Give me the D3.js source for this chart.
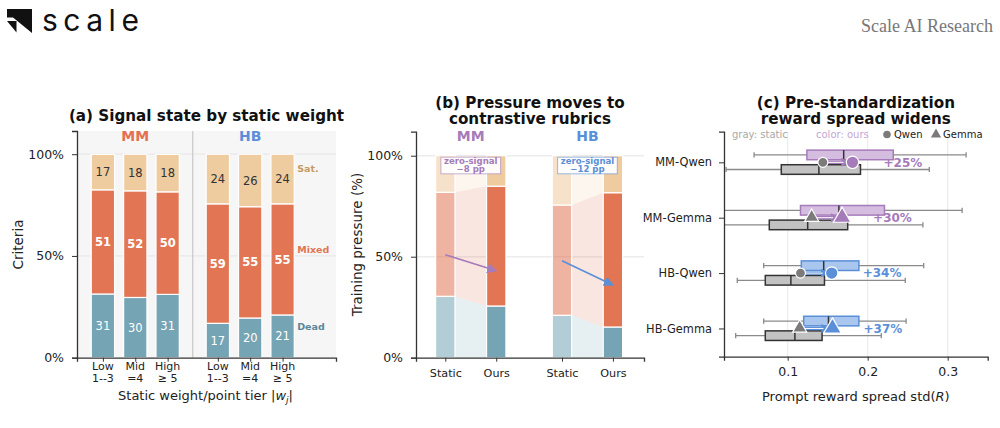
<!DOCTYPE html>
<html>
<head>
<meta charset="utf-8">
<script src="https://cdn.jsdelivr.net/npm/d3@7"></script>
<style>
  body { margin: 0; background: #fff; }
  svg { display: block; }
  text { font-family: "DejaVu Sans", sans-serif; }
</style>
</head>
<body>
<svg id="fig" width="1000" height="428"></svg>
<script>
// ---------------------------------------------------------------
// data
// ---------------------------------------------------------------

// (a) signal state share (%) per static weight tier, MM tiers then HB tiers
var groupsA = ["MM", "HB"];
var tiersA  = [["Low", "1--3"], ["Mid", "=4"], ["High", "\u2265 5"]];
var deadA   = [31.3, 29.6, 31.1, 16.9, 19.5, 21.0];
var mixedA  = [51.2, 52.4, 50.4, 58.7, 54.7, 54.6];
var satA    = [17.4, 18.0, 18.4, 24.4, 25.8, 24.4];
var stateNames = ["Dead", "Mixed", "Sat."];

// (b) training pressure (%): MM static, MM ours, HB static, HB ours
var groupsB  = ["MM", "HB"];
var methodsB = ["Static", "Ours"];
var deadB    = [30.4, 25.6, 21.0, 15.2];
var mixedB   = [51.5, 59.3, 54.6, 66.5];
var satB     = [18.1, 15.1, 24.4, 18.3];
var zeroSignalB = ["\u22128 pp", "\u221212 pp"];
var arrowB   = [[51, 43], [48, 36]];

// (c) prompt reward spread std(R): [whisker lo, q1, median, q3, whisker hi]
var rowsC = ["MM-Qwen", "MM-Gemma", "HB-Qwen", "HB-Gemma"];
var staticBoxC = [
  [0.023, 0.092, 0.139, 0.191, 0.277],
  [0.012, 0.077, 0.125, 0.175, 0.269],
  [0.037, 0.072, 0.104, 0.146, 0.247],
  [0.035, 0.072, 0.109, 0.143, 0.217]
];
var oursBoxC = [
  [0.058, 0.124, 0.170, 0.232, 0.323],
  [0.010, 0.116, 0.164, 0.221, 0.318],
  [0.070, 0.117, 0.145, 0.189, 0.270],
  [0.070, 0.120, 0.151, 0.189, 0.248]
];
var staticMeanC = [0.144, 0.130, 0.116, 0.115];
var oursMeanC   = [0.181, 0.168, 0.155, 0.156];
var gainC       = ["+25%", "+30%", "+34%", "+37%"];

// ---------------------------------------------------------------
// style
// ---------------------------------------------------------------
var col = {
  dead: "#75a4b4", mixed: "#e27654", sat: "#efcba0",
  deadTxt: "#5a8798", mixedTxt: "#e27654", satTxt: "#c89a5f",
  mmA: "#e3704f", mm: "#a67bba", hb: "#5b8fd8",
  mmFill: "#d5bde0", hbFill: "#a8c6ee",
  axis: "#333", grid: "#e8e8e8"
};
var stateCols = [col.dead, col.mixed, col.sat];

var svg = d3.select("#fig");

var defs = svg.append("defs");
function arrowHead(id, c, size) {
  defs.append("marker")
    .attr("id", id).attr("viewBox", "0 0 10 10")
    .attr("refX", 9).attr("refY", 5)
    .attr("markerUnits", "userSpaceOnUse")
    .attr("markerWidth", size).attr("markerHeight", size)
    .attr("orient", "auto")
    .append("path").attr("d", "M0,0L10,5L0,10Z").attr("fill", c);
}
arrowHead("arMM", col.mm, 10);
arrowHead("arHB", col.hb, 10);
arrowHead("arMMc", col.mm, 9);
arrowHead("arHBc", col.hb, 9);

function styleAxis(g) {
  g.select(".domain").attr("stroke", col.axis).attr("stroke-width", 1.3);
  g.selectAll(".tick line").attr("stroke", col.axis).attr("stroke-width", 1);
  g.selectAll(".tick text").attr("fill", "#222").style("font-family", "DejaVu Sans");
}

// ---------------------------------------------------------------
// header
// ---------------------------------------------------------------
svg.append("path").attr("d", "M7,9H32V33L13,17.5H7Z").attr("fill", "#111");
svg.append("path").attr("d", "M7,21H16.5V32.5Z").attr("fill", "#111");
svg.append("text").attr("x", 42).attr("y", 30.5)
  .style("font-family", "Inter").style("font-size", "30px").style("letter-spacing", "5.5px")
  .attr("fill", "#111")
  .text("scale");
svg.append("text").attr("x", 993).attr("y", 32).attr("text-anchor", "end")
  .style("font-family", "Liberation Serif").style("font-size", "18px").attr("fill", "#777")
  .text("Scale AI Research");

// ---------------------------------------------------------------
// (a) signal state by static weight
// ---------------------------------------------------------------
var gapA = 3.55, barWA = 0.72;
var posA = d3.range(deadA.length).map(function(i) { return Math.floor(i / 3) * gapA + i % 3; });
var xA = d3.scaleLinear().domain([-0.8, 7.2]).range([77, 336]);
var yA = d3.scaleLinear().domain([0, 111.4]).range([357.7, 131]);
var gA = svg.append("g");

gA.append("rect")
  .attr("x", xA.range()[0]).attr("y", yA.range()[1])
  .attr("width", xA.range()[1] - xA.range()[0]).attr("height", yA.range()[0] - yA.range()[1])
  .attr("fill", "#f6f6f6");
gA.selectAll(".grid").data([50, 100]).enter().append("line")
  .attr("x1", xA.range()[0]).attr("x2", xA.range()[1])
  .attr("y1", yA).attr("y2", yA)
  .attr("stroke", col.grid).attr("stroke-width", 1.2);
gA.append("line")
  .attr("x1", xA((2 + gapA) / 2)).attr("x2", xA((2 + gapA) / 2))
  .attr("y1", yA.range()[1]).attr("y2", yA.range()[0])
  .attr("stroke", "#c8c8c8").attr("stroke-width", 1.2);

var layersA = [deadA, mixedA, satA];
posA.forEach(function(p, i) {
  var base = 0;
  layersA.forEach(function(vals, k) {
    var v = vals[i];
    gA.append("rect")
      .attr("x", xA(p - barWA / 2)).attr("width", xA(barWA) - xA(0))
      .attr("y", yA(base + v)).attr("height", yA(base) - yA(base + v))
      .attr("fill", stateCols[k]).attr("stroke", "#fff").attr("stroke-width", 1.2);
    gA.append("text")
      .attr("x", xA(p)).attr("y", yA(base + v / 2)).attr("dy", "0.36em")
      .attr("text-anchor", "middle")
      .style("font-size", "11.5px")
      .style("font-weight", k === 1 ? "bold" : "normal")
      .attr("fill", k === 2 ? "#333" : "#fff")
      .text(Math.round(v));
    base += v;
  });
});

// state names beside last bar
var lastA = posA.length - 1, baseA = 0;
[col.deadTxt, col.mixedTxt, col.satTxt].forEach(function(c, k) {
  var v = layersA[k][lastA];
  gA.append("text")
    .attr("x", xA(posA[lastA] + barWA / 2) + 3).attr("y", yA(baseA + v / 2) - 10)
    .attr("dy", "0.36em")
    .style("font-size", "9.5px").style("font-weight", "bold").attr("fill", c)
    .text(stateNames[k]);
  baseA += v;
});

// group labels
groupsA.forEach(function(g, j) {
  gA.append("text")
    .attr("x", xA(j * gapA + 1)).attr("y", 140.5).attr("text-anchor", "middle")
    .style("font-size", "14px").style("font-weight", "bold")
    .attr("fill", j === 0 ? col.mmA : col.hb).text(g);
});

var axA = gA.append("g").attr("transform", "translate(" + xA.range()[0] + ",0)")
  .call(d3.axisLeft(yA).tickValues([0, 50, 100]).tickSize(5).tickPadding(8)
    .tickFormat(function(d) { return d + "%"; }));
styleAxis(axA);
axA.selectAll(".tick text").style("font-size", "12.5px");

var axAx = gA.append("g").attr("transform", "translate(0," + yA.range()[0] + ")")
  .call(d3.axisBottom(xA).tickValues(posA).tickSize(4).tickFormat(""));
styleAxis(axAx);
posA.forEach(function(p, i) {
  var t = gA.append("text").attr("x", xA(p)).attr("y", 369.5)
    .attr("text-anchor", "middle").style("font-size", "11px").attr("fill", "#222");
  t.append("tspan").attr("x", xA(p)).text(tiersA[i % 3][0]);
  t.append("tspan").attr("x", xA(p)).attr("dy", "1.15em").text(tiersA[i % 3][1]);
});

var xlabA = gA.append("text").attr("x", d3.mean(xA.range()) - 1).attr("y", 399.5)
  .attr("text-anchor", "middle").style("font-size", "13px").attr("fill", "#222");
xlabA.append("tspan").text("Static weight/point tier |");
xlabA.append("tspan").style("font-style", "italic").text("w");
xlabA.append("tspan").style("font-style", "italic").style("font-size", "9px").attr("dy", 3).text("j");
xlabA.append("tspan").attr("dy", -3).text("|");

gA.append("text").attr("transform", "translate(23,244.5) rotate(-90)")
  .attr("text-anchor", "middle").style("font-size", "13.5px").attr("fill", "#222")
  .text("Criteria");

gA.append("text").attr("x", d3.mean(xA.range())).attr("y", 120.5).attr("text-anchor", "middle")
  .style("font-size", "15.2px").style("font-weight", "bold").attr("fill", "#111")
  .text("(a) Signal state by static weight");

// ---------------------------------------------------------------
// (b) pressure moves to contrastive rubrics
// ---------------------------------------------------------------
var gapB = 2.29, barWB = 0.38;
var posB = d3.range(deadB.length).map(function(i) { return Math.floor(i / 2) * gapB + i % 2; });
var xB = d3.scaleLinear().domain([-0.575, 3.9]).range([416, 644]);
var yB = d3.scaleLinear().domain([0, 111.9]).range([357.7, 131.7]);
var gB = svg.append("g");

gB.selectAll(".grid").data([50, 100]).enter().append("line")
  .attr("x1", xB.range()[0]).attr("x2", xB.range()[1])
  .attr("y1", yB).attr("y2", yB)
  .attr("stroke", "#ececec").attr("stroke-width", 1.5);

var layersB = [deadB, mixedB, satB];
function cum(layers, i, k) {
  var s = 0;
  for (var q = 0; q < k; q++) s += layers[q][i];
  return s;
}

groupsB.forEach(function(g, j) {
  var s = 2 * j, o = 2 * j + 1;
  var xs = xB(posB[s] + barWB / 2), xo = xB(posB[o] - barWB / 2);
  // ribbons
  layersB.forEach(function(vals, k) {
    var s0 = cum(layersB, s, k), s1 = s0 + vals[s];
    var o0 = cum(layersB, o, k), o1 = o0 + vals[o];
    gB.append("path")
      .attr("d", "M" + xs + "," + yB(s0) + "L" + xo + "," + yB(o0) +
                 "L" + xo + "," + yB(o1) + "L" + xs + "," + yB(s1) + "Z")
      .attr("fill", stateCols[k]).attr("fill-opacity", 0.18);
  });
  // bars
  [s, o].forEach(function(i) {
    layersB.forEach(function(vals, k) {
      var b = cum(layersB, i, k);
      gB.append("rect")
        .attr("x", xB(posB[i] - barWB / 2)).attr("width", xB(barWB) - xB(0))
        .attr("y", yB(b + vals[i])).attr("height", yB(b) - yB(b + vals[i]))
        .attr("fill", stateCols[k]).attr("fill-opacity", i === s ? 0.55 : 1)
        .attr("stroke", "#fff").attr("stroke-width", 1.2);
    });
  });
  var c = j === 0 ? col.mm : col.hb;
  // arrow
  gB.append("line")
    .attr("x1", xB(posB[s])).attr("y1", yB(arrowB[j][0]))
    .attr("x2", xB(posB[o])).attr("y2", yB(arrowB[j][1]))
    .attr("stroke", c).attr("stroke-width", 1.6)
    .attr("marker-end", "url(#ar" + g + ")");
  // zero-signal note
  var cx = xB((posB[s] + posB[o]) / 2);
  var box = gB.append("rect").attr("fill", "#fff").attr("fill-opacity", 0.92)
    .attr("stroke", c).attr("stroke-opacity", 0.6).attr("stroke-width", 1);
  var t = gB.append("text").attr("text-anchor", "middle")
    .style("font-size", "8.6px").style("font-weight", "bold").attr("fill", c);
  t.append("tspan").attr("x", cx).attr("y", 164).text("zero-signal");
  t.append("tspan").attr("x", cx).attr("y", 172.3).text(zeroSignalB[j]);
  var bb = t.node().getBBox();
  box.attr("x", cx - bb.width / 2 - 3).attr("width", bb.width + 6)
    .attr("y", 157.2).attr("height", 16.6);
  // group label
  gB.append("text")
    .attr("x", cx).attr("y", 140.5).attr("text-anchor", "middle")
    .style("font-size", "14px").style("font-weight", "bold").attr("fill", c).text(g);
});

var axB = gB.append("g").attr("transform", "translate(" + xB.range()[0] + ",0)")
  .call(d3.axisLeft(yB).tickValues([0, 50, 100]).tickSize(5).tickPadding(8)
    .tickFormat(function(d) { return d + "%"; }));
styleAxis(axB);
axB.selectAll(".tick text").style("font-size", "12.5px");

var axBx = gB.append("g").attr("transform", "translate(0," + yB.range()[0] + ")")
  .call(d3.axisBottom(xB).tickValues(posB).tickSize(4).tickPadding(7)
    .tickFormat(function(d, i) { return methodsB[i % 2]; }));
styleAxis(axBx);
axBx.selectAll(".tick text").style("font-size", "11.2px");

gB.append("text").attr("transform", "translate(362,244.5) rotate(-90)")
  .attr("text-anchor", "middle").style("font-size", "13.5px").attr("fill", "#222")
  .text("Training pressure (%)");

var titleB = gB.append("text").attr("text-anchor", "middle")
  .style("font-size", "15.2px").style("font-weight", "bold").attr("fill", "#111");
titleB.append("tspan").attr("x", d3.mean(xB.range())).attr("y", 107.5).text("(b) Pressure moves to");
titleB.append("tspan").attr("x", d3.mean(xB.range())).attr("y", 123.5).text("contrastive rubrics");

// ---------------------------------------------------------------
// (c) pre-standardization reward spread widens
// ---------------------------------------------------------------
var xC = d3.scaleLinear().domain([0.0204, 0.35]).range([724, 987.7]);
var yC = d3.scaleLinear().domain([-0.553, 3.51]).range([131.7, 356.7]);
var gC = svg.append("g");

defs.append("clipPath").attr("id", "clipC").append("rect")
  .attr("x", xC.range()[0]).attr("y", yC.range()[0])
  .attr("width", xC.range()[1] - xC.range()[0]).attr("height", yC.range()[1] - yC.range()[0]);

gC.selectAll(".grid").data([0.1, 0.2, 0.3]).enter().append("line")
  .attr("x1", xC).attr("x2", xC)
  .attr("y1", yC.range()[0]).attr("y2", yC.range()[1])
  .attr("stroke", "#ececec").attr("stroke-width", 1.2);

var plotC = gC.append("g").attr("clip-path", "url(#clipC)");
var boxH = 9.6;

function drawBox(stats, yc, edge, fill, fillOpacity) {
  plotC.append("line")
    .attr("x1", xC(stats[0])).attr("x2", xC(stats[4])).attr("y1", yc).attr("y2", yc)
    .attr("stroke", "#8a8a8a").attr("stroke-width", 1.3);
  [stats[0], stats[4]].forEach(function(v) {
    plotC.append("line").attr("x1", xC(v)).attr("x2", xC(v))
      .attr("y1", yc - 2.6).attr("y2", yc + 2.6)
      .attr("stroke", "#8a8a8a").attr("stroke-width", 1.3);
  });
  plotC.append("rect")
    .attr("x", xC(stats[1])).attr("width", xC(stats[3]) - xC(stats[1]))
    .attr("y", yc - boxH / 2).attr("height", boxH)
    .attr("fill", fill).attr("fill-opacity", fillOpacity)
    .attr("stroke", edge).attr("stroke-width", 1.5);
  plotC.append("line").attr("x1", xC(stats[2])).attr("x2", xC(stats[2]))
    .attr("y1", yc - boxH / 2).attr("y2", yc + boxH / 2)
    .attr("stroke", "#333").attr("stroke-width", 1.5);
}

function marker(g, shape, x, y, r, c) {
  if (shape === "circle") {
    g.append("circle").attr("cx", x).attr("cy", y).attr("r", r)
      .attr("fill", c).attr("stroke", "#fff").attr("stroke-width", 1.2);
  } else {
    g.append("path")
      .attr("d", d3.symbol(d3.symbolTriangle, Math.PI * r * r * 1.1)())
      .attr("transform", "translate(" + x + "," + (y - 0.5) + ")")
      .attr("fill", c).attr("stroke", "#fff").attr("stroke-width", 1.2);
  }
}

rowsC.forEach(function(name, i) {
  var isMM = name.indexOf("MM") === 0;
  var c = isMM ? col.mm : col.hb;
  var yc = yC(i);
  drawBox(staticBoxC[i], yc + 7.2, "#333", "#c2c2c2", 1);
  drawBox(oursBoxC[i], yc - 7.4, c, isMM ? col.mmFill : col.hbFill, 1);
  var shape = name.indexOf("Qwen") > 0 ? "circle" : "triangle";
  var x0 = xC(staticMeanC[i]), x1 = xC(oursMeanC[i]);
  plotC.append("line").attr("x1", x0).attr("x2", x1 - 3).attr("y1", yc).attr("y2", yc)
    .attr("stroke", c).attr("stroke-width", 3.4)
    .attr("marker-end", "url(#ar" + (isMM ? "MM" : "HB") + "c)");
  plotC.append("line").attr("x1", x0).attr("x2", x1 - 9).attr("y1", yc).attr("y2", yc)
    .attr("stroke", "#fff").attr("stroke-width", 1);
  marker(plotC, shape, x0, yc, 5, "#7b7b7b");
  marker(plotC, shape, x1, yc, 6.2, c);
  gC.append("text").attr("x", x1 + 31).attr("y", yc).attr("dy", "0.36em")
    .style("font-size", "12px").style("font-weight", "bold").attr("fill", c)
    .text(gainC[i]);
});

var axC = gC.append("g").attr("transform", "translate(" + xC.range()[0] + ",0)")
  .call(d3.axisLeft(yC).tickValues([0, 1, 2, 3]).tickSize(5).tickPadding(7)
    .tickFormat(function(d) { return rowsC[d]; }));
styleAxis(axC);
axC.selectAll(".tick text").style("font-size", "11.4px");

var axCx = gC.append("g").attr("transform", "translate(0," + yC.range()[1] + ")")
  .call(d3.axisBottom(xC).tickValues([0.1, 0.2, 0.3]).tickSize(4).tickPadding(6)
    .tickFormat(d3.format(".1f")));
styleAxis(axCx);
axCx.selectAll(".tick text").style("font-size", "12.5px");

// legend row
var legY = 134.5;
gC.append("text").attr("x", 732).attr("y", legY).attr("dy", "0.36em")
  .style("font-size", "10px").attr("fill", "#a8a8a8").text("gray: static");
gC.append("text").attr("x", 816).attr("y", legY).attr("dy", "0.36em")
  .style("font-size", "10px").attr("fill", "#c4a6d3").text("color: ours");
marker(gC, "circle", 887, legY, 4.4, "#7b7b7b");
gC.append("text").attr("x", 894).attr("y", legY).attr("dy", "0.36em")
  .style("font-size", "10px").attr("fill", "#222").text("Qwen");
marker(gC, "triangle", 936, legY + 0.5, 4.4, "#7b7b7b");
gC.append("text").attr("x", 943).attr("y", legY).attr("dy", "0.36em")
  .style("font-size", "10px").attr("fill", "#222").text("Gemma");

var xlabC = gC.append("text").attr("x", d3.mean(xC.range())).attr("y", 401)
  .attr("text-anchor", "middle").style("font-size", "13px").attr("fill", "#222");
xlabC.append("tspan").text("Prompt reward spread std(");
xlabC.append("tspan").style("font-style", "italic").text("R");
xlabC.append("tspan").text(")");

var titleC = gC.append("text").attr("text-anchor", "middle")
  .style("font-size", "15.2px").style("font-weight", "bold").attr("fill", "#111");
titleC.append("tspan").attr("x", d3.mean(xC.range())).attr("y", 107.5).text("(c) Pre-standardization");
titleC.append("tspan").attr("x", d3.mean(xC.range())).attr("y", 123.5).text("reward spread widens");
</script>
</body>
</html>
